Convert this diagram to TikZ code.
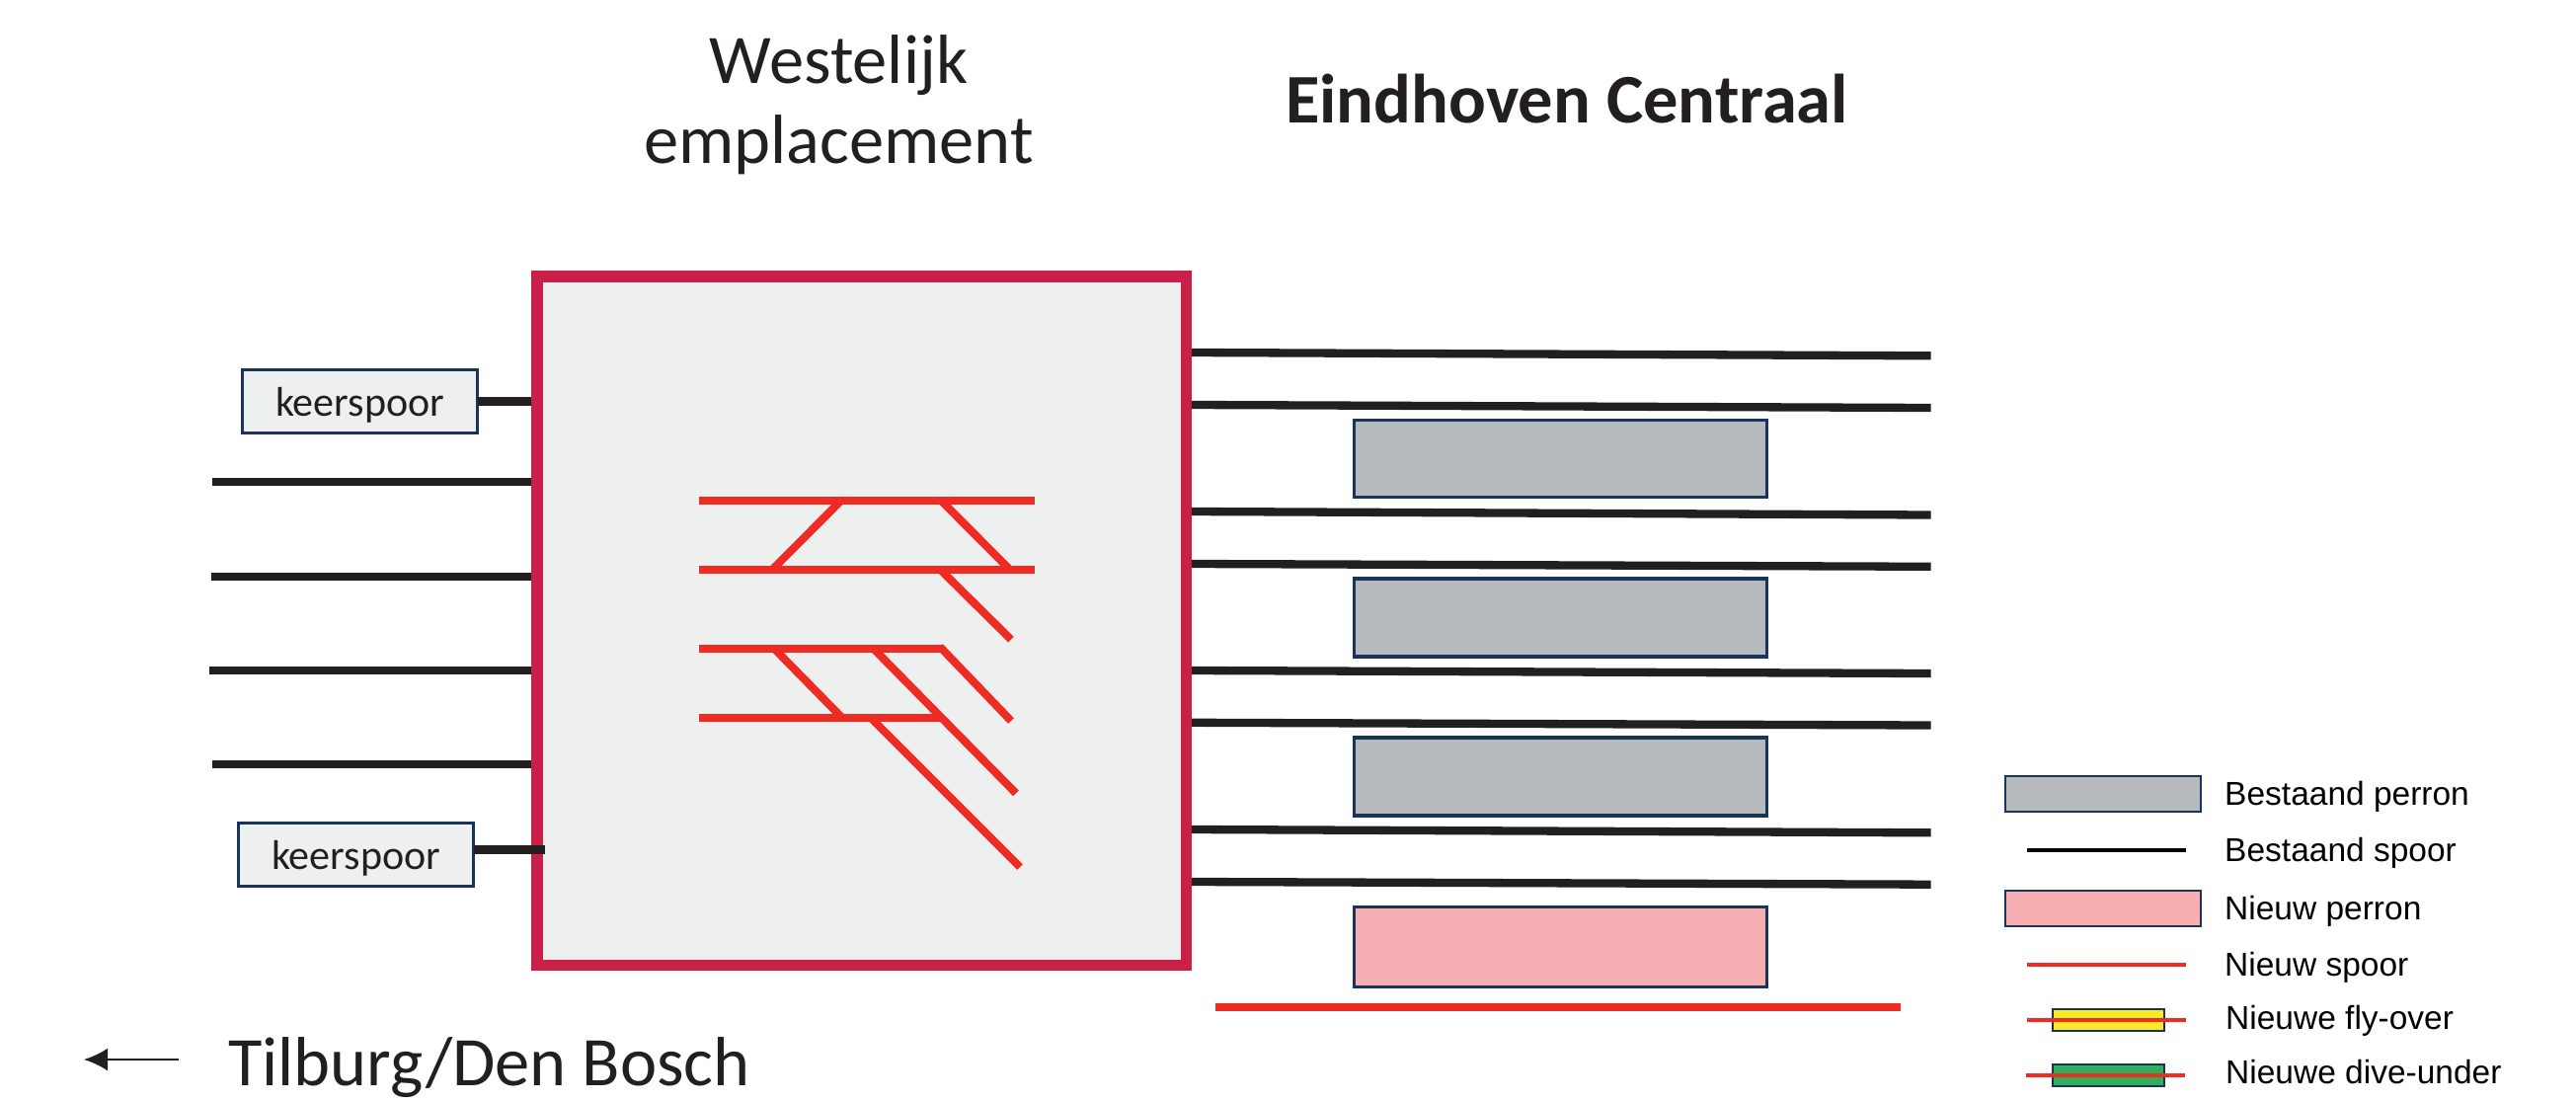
\documentclass[tikz,border=0pt]{standalone}
\usepackage{fontspec}
\usetikzlibrary{arrows.meta}
\setmainfont{Carlito}
\newfontfamily\legendfont{Liberation Sans}
\definecolor{boxred}{HTML}{C9204A}
\definecolor{boxfill}{HTML}{EEF0EF}
\definecolor{navy}{HTML}{1A3358}
\definecolor{inkblack}{HTML}{231F20}
\definecolor{trackred}{HTML}{EE2C24}
\definecolor{grayperron}{HTML}{B6BABC}
\definecolor{pinkperron}{HTML}{F6AFB2}
\definecolor{flyyellow}{HTML}{F8EC2A}
\definecolor{divegreen}{HTML}{2FAF5B}
\tikzset{
  x=1pt,y=-1pt,
  plainbox/.style={draw=navy,line width=3.2pt,inner sep=0pt,outer sep=0pt,anchor=north west},
  keerbox/.style={plainbox,fill=boxfill,minimum width=238pt,minimum height=64pt,text=inkblack,text height=36pt,text depth=7pt,font=\fontsize{42}{48}\selectfont},
  perronbox/.style={plainbox,fill=grayperron,minimum width=418pt,minimum height=79pt},
  newperronbox/.style={perronbox,fill=pinkperron,minimum height=81pt},
  oldtrack/.style={draw=inkblack,line width=8.3pt},
  newtrack/.style={draw=trackred,line width=8.3pt},
  newbranch/.style={draw=trackred,line width=8pt},
  legendbox/.style={plainbox,line width=2pt,minimum width=198pt,minimum height=36pt},
  legendsmall/.style={plainbox,line width=2pt,minimum width=113pt,minimum height=22pt},
  legendtext/.style={anchor=west,inner sep=0pt,text=black,font=\legendfont\fontsize{33.5}{40}\selectfont},
  title/.style={inner sep=0pt,text=inkblack,anchor=base,font=\fontsize{70.5}{80}\selectfont},
}
\begin{document}
\begin{tikzpicture}
\useasboundingbox (0,0) rectangle (2609,1114);
% main box
\node[draw=boxred,fill=boxfill,line width=11.4pt,inner sep=0pt,outer sep=5.7pt,anchor=center,minimum width=657.5pt,minimum height=697.6pt] (box) at (872.75,628.8) {};
% titles
\node[title] (west) at (849.5,84) {Westelijk};
\node[title] (empl) at (849.5,165) {emplacement};
\node[title,font=\bfseries\fontsize{70.5}{80}\selectfont] (eind) at (1587,124) {Eindhoven Centraal};
\node[title,anchor=base west] (tilburg) at (231,1099) {Tilburg/Den Bosch};
\coordinate (arrE) at (181,1073);
\coordinate (arrW) at (85,1073);
\draw[draw=inkblack,line width=2.4pt,-{Latex[length=24pt,width=23pt]}] (arrE) -- (arrW);
% keerspoor
\node[keerbox] (k1) at (245.5,374.5) {keerspoor};
\node[keerbox] (k2) at (241.5,833.5) {keerspoor};
\coordinate (k2end) at (552,860.5);
\draw[oldtrack] (k1.east) -- (k1.east -| box.west);
\draw[oldtrack] (k2.east |- k2end) -- (k2end);
% left tracks
\foreach \n/\xx/\yy in {1/215/487.8,2/213.5/584,3/212/678.9,4/215/773.7}{
  \coordinate (L\n) at (\xx,\yy);
  \draw[oldtrack] (L\n) -- (L\n -| box.west);
}
% red tracks in box
\coordinate (ra) at (708,506.8); \coordinate (rb) at (1048,506.8);
\coordinate (rc) at (708,577); \coordinate (rd) at (1048,577);
\coordinate (re) at (708,656.7); \coordinate (rf) at (955,656.7);
\coordinate (rg) at (708,727); \coordinate (rh) at (955,727);
\draw[newbranch] (852,506.8) -- (782,577);
\draw[newbranch] (953,506.8) -- (1023,577);
\draw[newbranch] (952.5,577) -- (1024,647.7);
\draw[newbranch] (952,655) -- (1024,730);
\draw[newbranch] (784,656.7) -- (853,727);
\draw[newbranch] (884.5,656.7) -- (1029,803.4);
\draw[newbranch] (882,727) -- (1033,878);
\draw[newtrack] (ra) -- (rb);
\draw[newtrack] (rc) -- (rd);
\draw[newtrack] (re) -- (rf);
\draw[newtrack] (rg) -- (rh);
% right tracks
\foreach \n/\ya/\yb in {1/357/360.3,2/410/413,3/518/521.5,4/571/573.8,5/679/682,6/731.8/734.5,7/840/843.3,8/893/895.7}{
  \coordinate (Ra\n) at (1207,\ya);
  \coordinate (Rb\n) at (1955.5,\yb);
  \draw[oldtrack] (Ra\n) -- (Rb\n);
}
% platforms
\node[perronbox,minimum height=78pt] (p1) at (1371.7,425.6) {};
\node[perronbox] (p2) at (1371.7,586) {};
\node[perronbox] (p3) at (1371.7,747) {};
\node[newperronbox] (p4) at (1371.7,918.4) {};
\coordinate (nw) at (1231,1020);
\coordinate (ne) at (1924.5,1020);
\draw[newtrack] (nw) -- (ne);
% legend
\node[legendbox,fill=grayperron] (lg1) at (2031,786) {};
\node[legendtext] (lt1) at (2253,807) {Bestaand perron};
\coordinate (ls2) at (2053,861); \coordinate (le2) at (2214,861);
\draw[draw=black,line width=4pt] (ls2) -- (le2);
\node[legendtext] (lt2) at (2253,864) {Bestaand spoor};
\node[legendbox,fill=pinkperron] (lg3) at (2031,902) {};
\node[legendtext] (lt3) at (2253,923) {Nieuw perron};
\coordinate (ls4) at (2053,977); \coordinate (le4) at (2214,977);
\draw[draw=trackred,line width=4pt] (ls4) -- (le4);
\node[legendtext] (lt4) at (2253,980) {Nieuw spoor};
\node[legendsmall,fill=flyyellow] (lg5) at (2079,1022) {};
\coordinate (ls5) at (2053,1032.7); \coordinate (le5) at (2214,1032.7);
\draw[draw=trackred,line width=4pt] (ls5) -- (le5);
\node[legendtext] (lt5) at (2254,1034) {Nieuwe fly-over};
\node[legendsmall,fill=divegreen] (lg6) at (2079,1078) {};
\coordinate (ls6) at (2052,1088.7); \coordinate (le6) at (2213,1088.7);
\draw[draw=trackred,line width=4pt] (ls6) -- (le6);
\node[legendtext] (lt6) at (2254,1085.5) {Nieuwe dive-under};
\end{tikzpicture}
\end{document}
